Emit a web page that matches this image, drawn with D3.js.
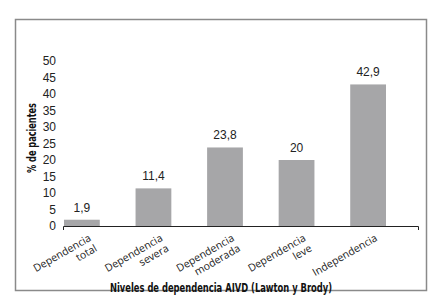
<!DOCTYPE html>
<html>
<head>
<meta charset="utf-8">
<script src="https://cdn.jsdelivr.net/npm/d3@7"></script>
<style>
  body { margin: 0; background: #fff; }
</style>
</head>
<body>
<div id="chart"></div>
<script>
// data
const categories = [["Dependencia", "total"], ["Dependencia", "severa"], ["Dependencia", "moderada"], ["Dependencia", "leve"], ["Independencia"]];
const values = [1.9, 11.4, 23.8, 20, 42.9];
const valueLabels = ["1,9", "11,4", "23,8", "20", "42,9"];
const yTicks = [0, 5, 10, 15, 20, 25, 30, 35, 40, 45, 50];

const width = 437, height = 303;

const svg = d3.select("#chart")
      .append("svg")
      .attr("width", width)
      .attr("height", height)

// frame
svg.append("rect")
      .attr("x", 15.5).attr("y", 19.5)
      .attr("width", 411).attr("height", 271)
      .attr("fill", "none")
      .attr("stroke", "#8a8a8a")
      .attr("stroke-width", 1.5)

const idx = d3.range(values.length);

let x = d3.scaleBand()
      .domain(idx)
      .range([64, 386])
      .paddingInner(0.5)
      .paddingOuter(0);

let y = d3.scaleLinear()
      .domain([0, 50])
      .range([226, 61]);

// y tick labels (no line)
svg.append("g")
      .attr("transform", "translate(56,0)")
      .call(d3.axisLeft(y).tickValues(yTicks).tickSize(0).tickPadding(0))
      .call(g => g.select(".domain").remove())
      .selectAll("text")
      .attr("font-family", "Liberation Sans, Arial, sans-serif")
      .attr("font-size", 12)
      .attr("fill", "#222");

// bars
svg.selectAll(".bar")
      .data(values)
      .join("rect")
      .attr("class", "bar")
      .attr("x", (d, i) => x(i))
      .attr("y", d => y(d))
      .attr("width", x.bandwidth())
      .attr("height", d => y(0) - y(d))
      .attr("fill", "#a6a6a8")

// value labels
svg.selectAll(".val")
      .data(values)
      .join("text")
      .attr("class", "val")
      .attr("x", (d, i) => x(i) + x.bandwidth() / 2)
      .attr("y", d => y(d) - 8)
      .attr("text-anchor", "middle")
      .attr("font-family", "Liberation Sans, Arial, sans-serif")
      .attr("font-size", 12)
      .attr("fill", "#222")
      .text((d, i) => valueLabels[i]);

// x axis line with end ticks
svg.append("path")
      .attr("d", "M63.5,230V226.5H418.5V230")
      .attr("fill", "none")
      .attr("stroke", "#222")
      .attr("stroke-width", 1)

// rotated category labels
const cat = svg.selectAll(".cat")
      .data(categories)
      .join("text")
      .attr("class", "cat")
      .attr("transform", (d, i) => `translate(${x(i) + x.bandwidth() / 2 + 10},240) rotate(-30)`)
      .attr("text-anchor", "end")
      .attr("font-family", "Open Sans, sans-serif")
      .attr("font-size", 10.5)
      .attr("fill", "#222");

cat.selectAll("tspan")
      .data(d => d)
      .join("tspan")
      .attr("x", 0)
      .attr("dy", (d, i) => i === 0 ? 0 : 12)
      .text(d => d);

// axis titles (condensed bold, squeezed to the reference width)
svg.append("text")
      .attr("x", 110)
      .attr("y", 292)
      .attr("textLength", 222)
      .attr("lengthAdjust", "spacingAndGlyphs")
      .attr("font-family", "DejaVu Sans Condensed, DejaVu Sans, sans-serif")
      .attr("font-weight", "bold")
      .attr("font-size", 11.5)
      .attr("fill", "#111")
      .text("Niveles de dependencia AIVD (Lawton y Brody)");

svg.append("text")
      .attr("transform", "translate(36,173) rotate(-90)")
      .attr("textLength", 70)
      .attr("lengthAdjust", "spacingAndGlyphs")
      .attr("font-family", "DejaVu Sans Condensed, DejaVu Sans, sans-serif")
      .attr("font-weight", "bold")
      .attr("font-size", 11.5)
      .attr("fill", "#111")
      .text("% de pacientes");
</script>
</body>
</html>
